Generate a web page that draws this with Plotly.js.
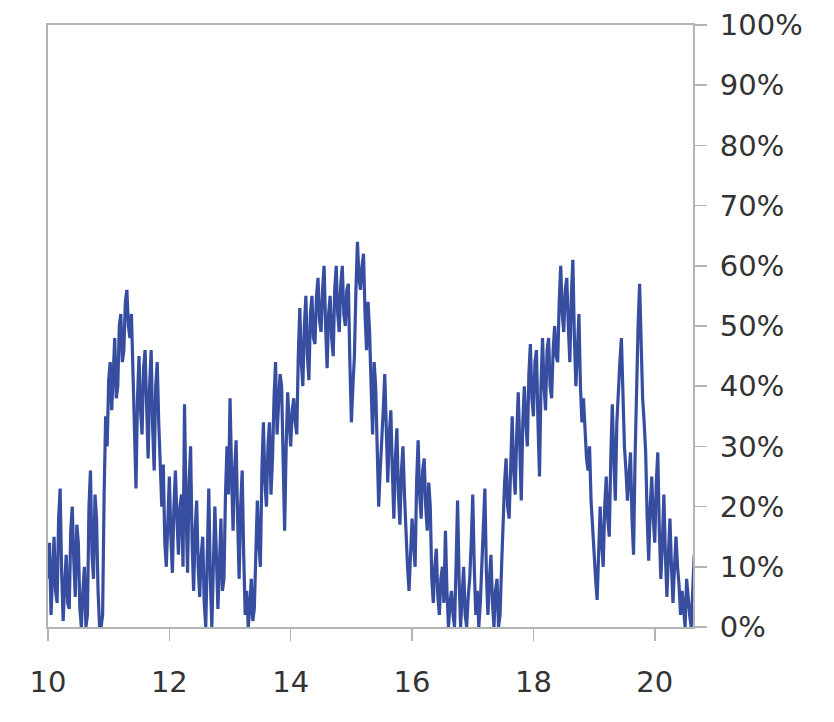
<!DOCTYPE html>
<html>
<head>
<meta charset="utf-8">
<script src="https://cdn.plot.ly/plotly-3.0.1.min.js"></script>
<style>
  html, body { margin: 0; padding: 0; background: #ffffff; }
  #chart { width: 834px; height: 722px; }
</style>
</head>
<body>
<div id="chart"></div>
<script>
// Sampling grid (decimal years)
const startYear = 10.0;
const stepYear = 0.025;

// Series values (%)
const shareValues = [
  8,14, 2,10, 15,6, 4,18, 23,9,
  1,7, 12,4, 3,16, 20,11, 5,17,
  14,3, 0,6, 10,0, 2,20, 26,12,
  8,22, 18,6, 0,0, 2,22, 35,30,
  41,44, 36,42, 48,38, 40,50, 52,44,
  46,54, 56,50, 48,52, 40,33, 23,38,
  45,36, 32,43, 46,34, 28,40, 46,33,
  26,40, 44,34, 28,20, 27,14, 10,20,
  25,15, 9,20, 26,18, 12,20, 22,10,
  37,20, 9,24, 30,14, 6,16, 21,10,
  5,12, 15,4, 0,12, 23,8, 0,10,
  20,12, 3,10, 18,6, 8,22, 30,22,
  38,26, 16,26, 31,18, 8,20, 26,12,
  2,6, 0,3, 8,1, 3,12, 21,14,
  10,26, 34,24, 20,30, 34,22, 28,38,
  44,32, 36,42, 40,28, 16,30, 39,34,
  30,36, 38,34, 32,45, 53,44, 40,50,
  55,45, 41,52, 55,48, 47,55, 58,51,
  49,56, 60,50, 43,52, 55,48, 45,56,
  60,52, 49,57, 60,52, 50,56, 57,44,
  34,40, 45,56, 64,58, 56,60, 62,52,
  46,54, 49,40, 32,44, 40,30, 20,26,
  30,36, 42,30, 24,32, 36,26, 18,28,
  33,22, 17,26, 30,22, 15,10, 6,12,
  18,14, 10,24, 31,22, 18,26, 28,20,
  16,24, 20,8, 4,10, 13,5, 2,8,
  10,4, 16,6, 0,4, 6,2, 0,10,
  21,8, 0,5, 10,2, 0,5, 8,14,
  22,10, 2,6, 0,4, 10,14, 23,9,
  2,8, 12,4, 0,6, 8,0, 2,10,
  19,24, 28,20, 18,28, 35,26, 22,32,
  39,30, 21,34, 40,34, 30,42, 47,38,
  35,44, 46,34, 25,40, 48,40, 36,46,
  48,40, 38,46, 50,45, 44,54, 60,52,
  49,56, 58,50, 44,55, 61,48, 40,46,
  52,40, 34,38, 33,28, 26,30, 21,16,
  12,8, 4.5,12, 20,14, 10,20, 25,18,
  15,28, 37,28, 21,34, 40,44, 48,38,
  30,26, 21,25, 29,18, 12,28, 40,50,
  57,46, 38,34, 29,18, 11,20, 25,18,
  14,24, 29,16, 8,14, 22,12, 5,12,
  18,10, 4,10, 15,10, 7,2, 6,3,
  0,8, 4,2, 0,6, 12
];

// Axis ticks
const xTickVals = [10, 12, 14, 16, 18, 20];
const xTickText = ["10", "12", "14", "16", "18", "20"];
const yTickVals = [0, 10, 20, 30, 40, 50, 60, 70, 80, 90, 100];
const yTickText = ["0%", "10%", "20%", "30%", "40%", "50%", "60%", "70%", "80%", "90%", "100%"];

const years = shareValues.map((v, i) => +(startYear + i * stepYear).toFixed(3));

const trace = {
  type: "scatter",
  mode: "lines",
  x: years,
  y: shareValues,
  line: { color: "#374da0", width: 3.2 },
  hoverinfo: "skip"
};

const axisGray = "#b4b4b4";
const xFont = { family: "'DejaVu Sans', sans-serif", size: 29, color: "#333333" };
const yFont = { family: "'DejaVu Sans', sans-serif", size: 29, color: "#333333" };

const layout = {
  width: 834,
  height: 722,
  margin: { l: 48, r: 141, t: 25, b: 95, pad: 0 },
  paper_bgcolor: "#ffffff",
  plot_bgcolor: "#ffffff",
  showlegend: false,
  font: xFont,
  xaxis: {
    range: [10, 20.63],
    tickmode: "array",
    tickvals: xTickVals,
    ticktext: xTickText,
    ticks: "outside",
    ticklen: 12,
    tickwidth: 1.5,
    tickcolor: axisGray,
    ticklabelstandoff: 16,
    showline: true,
    linecolor: axisGray,
    linewidth: 2,
    mirror: true,
    showgrid: false,
    zeroline: false,
    tickfont: xFont,
    automargin: false
  },
  yaxis: {
    side: "right",
    range: [0, 100],
    tickmode: "array",
    tickvals: yTickVals,
    ticktext: yTickText,
    ticks: "outside",
    ticklen: 12,
    tickwidth: 1.5,
    tickcolor: axisGray,
    ticklabelstandoff: 7,
    showline: true,
    linecolor: axisGray,
    linewidth: 2,
    mirror: true,
    showgrid: false,
    zeroline: false,
    tickfont: yFont,
    automargin: false
  }
};

Plotly.newPlot("chart", [trace], layout, { displayModeBar: false, staticPlot: true });
</script>
</body>
</html>
